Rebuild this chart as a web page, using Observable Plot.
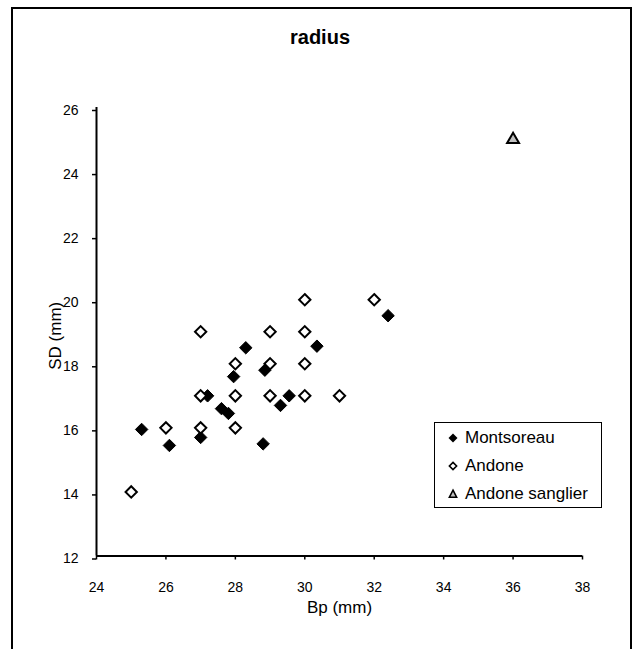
<!DOCTYPE html>
<html>
<head>
<meta charset="utf-8">
<script src="https://cdn.jsdelivr.net/npm/d3@7"></script>
<script src="https://cdn.jsdelivr.net/npm/@observablehq/plot@0.6"></script>
<style>
  body { margin: 0; background: #fff; font-family: "Liberation Sans", Arial, sans-serif; }
  #wrap { position: relative; width: 640px; height: 649px; overflow: hidden; background: #fff; }
  #border { position: absolute; left: 11px; top: 7px; width: 621px; height: 700px; border: 2px solid #000; box-sizing: border-box; }
  #chart { position: absolute; left: 0; top: 0; }
  #title { position: absolute; left: 0; width: 640px; top: 25px; text-align: center; font-weight: bold; font-size: 20px; line-height: 24px; color: #000; }
  #legend { position: absolute; left: 434px; top: 422px; width: 168px; height: 86px; border: 1.5px solid #000; box-sizing: border-box; background: #fff; }
  .row { position: absolute; left: 0; height: 20px; line-height: 20px; font-size: 17px; color: #000; white-space: nowrap; }
  .row svg { position: absolute; left: 12px; top: 4px; }
  .row span { position: absolute; left: 30px; top: 0; }
</style>
</head>
<body>
<div id="wrap">
  <div id="border"></div>
  <div id="chart"></div>
  <div id="title">radius</div>
  <div id="legend"></div>
</div>
<script>
// ---- data ----
const seriesNames = ["Montsoreau", "Andone", "Andone sanglier"];

const montsoreauBp = [25.3, 26.1, 27.0, 27.2, 27.6, 27.8, 27.95, 28.3, 28.85, 28.8, 29.3, 29.55, 30.35, 32.4];
const montsoreauSD = [15.95, 15.45, 15.7, 17.0, 16.6, 16.45, 17.6, 18.5, 17.8, 15.5, 16.7, 17.0, 18.55, 19.5];

const andoneBp = [25, 26, 27, 27, 27, 28, 28, 28, 29, 29, 29, 30, 30, 30, 30, 31, 32];
const andoneSD = [14, 16, 19, 17, 16, 18, 17, 16, 19, 18, 17, 20, 19, 18, 17, 17, 20];

const sanglierBp = [36];
const sanglierSD = [25];

const xTicks = [24, 26, 28, 30, 32, 34, 36, 38];
const yTicks = [12, 14, 16, 18, 20, 22, 24, 26];
const xLabel = "Bp (mm)";
const yLabel = "SD (mm)";

// ---- build tables ----
const toRows = (bp, sd, s) => bp.map((b, i) => ({ Bp: b, SD: sd[i], series: s }));
const montsoreau = toRows(montsoreauBp, montsoreauSD, seriesNames[0]);
const andone = toRows(andoneBp, andoneSD, seriesNames[1]);
const sanglier = toRows(sanglierBp, sanglierSD, seriesNames[2]);

const chart = Plot.plot({
  width: 640,
  height: 649,
  marginLeft: 96,
  marginRight: 58,
  marginTop: 107,
  marginBottom: 93.5,
  x: { domain: [24, 38] },
  y: { domain: [12, 26] },
  style: { fontFamily: "'Liberation Sans', Arial, sans-serif", fontSize: "14px", color: "#000", background: "transparent" },
  marks: [
    Plot.axisX({ ticks: xTicks, tickSize: 4, tickPadding: 22, strokeWidth: 1.5, label: null }),
    Plot.axisY({ ticks: yTicks, tickSize: 4, tickPadding: 14, strokeWidth: 1.5, dy: 3, label: null }),
    Plot.ruleX([24], { stroke: "#000", strokeWidth: 2 }),
    Plot.ruleY([12], { stroke: "#000", strokeWidth: 2 }),
    Plot.dot(montsoreau, { x: "Bp", y: "SD", symbol: "diamond2", r: 5.6, fill: "#000", stroke: "#000", strokeWidth: 1 }),
    Plot.dot(andone, { x: "Bp", y: "SD", symbol: "diamond2", r: 5.1, fill: "#fff", stroke: "#000", strokeWidth: 2 }),
    Plot.dot(sanglier, { x: "Bp", y: "SD", symbol: "triangle2", r: 5.7, fill: "#c0c0c0", stroke: "#000", strokeWidth: 2 }),
    Plot.text([xLabel], { text: d => d, frameAnchor: "bottom", dy: 57, fontSize: 17 }),
    Plot.text([yLabel], { text: d => d, frameAnchor: "left", textAnchor: "middle", rotate: -90, dx: -41, dy: 4, fontSize: 17 })
  ]
});
document.getElementById("chart").appendChild(chart);

// ---- legend ----
const legendSymbols = [
  '<svg width="12" height="12" viewBox="-6 -6 12 12"><path d="M0,-4.5L4.5,0L0,4.5L-4.5,0Z" fill="#000"/></svg>',
  '<svg width="12" height="12" viewBox="-6 -6 12 12"><path d="M0,-3.6L3.6,0L0,3.6L-3.6,0Z" fill="#fff" stroke="#000" stroke-width="1.6"/></svg>',
  '<svg width="12" height="12" viewBox="-6 -6 12 12"><path d="M0,-3.8L3.6,3.2L-3.6,3.2Z" fill="#c0c0c0" stroke="#000" stroke-width="1.6"/></svg>'
];
const legend = document.getElementById("legend");
seriesNames.forEach((name, i) => {
  const row = document.createElement("div");
  row.className = "row";
  row.style.top = (5 + i * 28) + "px";
  row.innerHTML = legendSymbols[i] + "<span></span>";
  row.querySelector("span").textContent = name;
  legend.appendChild(row);
});
</script>
</body>
</html>
